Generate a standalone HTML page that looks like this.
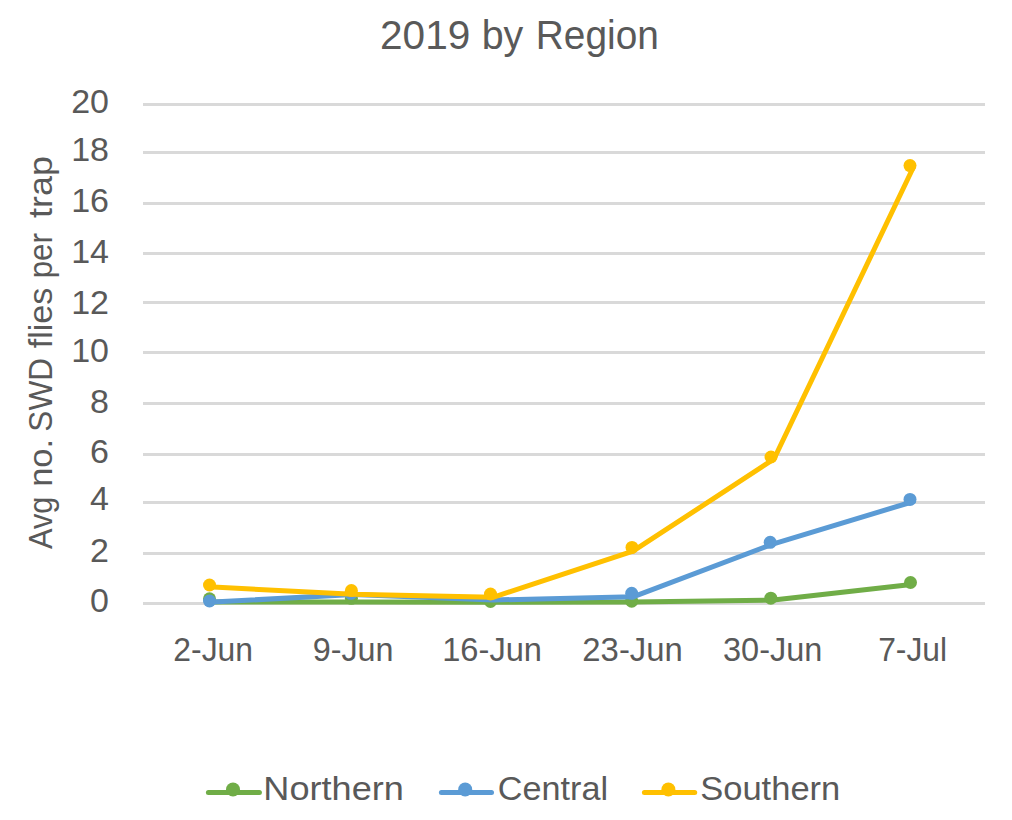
<!DOCTYPE html>
<html><head><meta charset="utf-8"><style>
html,body{margin:0;padding:0;background:#fff;}
body{width:1012px;height:820px;overflow:hidden;font-family:"Liberation Sans",sans-serif;}
svg{display:block;}
</style></head><body>
<svg width="1012" height="820" viewBox="0 0 1012 820">
<rect x="143" y="103" width="842" height="3" fill="#D9D9D9"/>
<rect x="143" y="151" width="842" height="3" fill="#D9D9D9"/>
<rect x="143" y="202" width="842" height="3" fill="#D9D9D9"/>
<rect x="143" y="252" width="842" height="3" fill="#D9D9D9"/>
<rect x="143" y="301" width="842" height="3" fill="#D9D9D9"/>
<rect x="143" y="351" width="842" height="3" fill="#D9D9D9"/>
<rect x="143" y="402" width="842" height="3" fill="#D9D9D9"/>
<rect x="143" y="453" width="842" height="3" fill="#D9D9D9"/>
<rect x="143" y="501" width="842" height="3" fill="#D9D9D9"/>
<rect x="143" y="552" width="842" height="3" fill="#D9D9D9"/>
<rect x="143" y="602" width="842" height="3" fill="#D9D9D9"/>
<polyline points="213,602 353,602 493,602.3 633,602 773.5,600 913.5,584.3" fill="none" stroke="#70AD47" stroke-width="5" stroke-linejoin="round" stroke-linecap="round"/>
<circle cx="209.5" cy="598.8" r="6.5" fill="#70AD47"/>
<circle cx="351.4" cy="598.3" r="6.5" fill="#70AD47"/>
<circle cx="490.5" cy="601.4" r="6.5" fill="#70AD47"/>
<circle cx="631.7" cy="601.2" r="6.5" fill="#70AD47"/>
<circle cx="770.8" cy="598.2" r="6.5" fill="#70AD47"/>
<circle cx="910.5" cy="582.5" r="6.5" fill="#70AD47"/>
<polyline points="213,602.1 353,594.5 493,600 633,596.8 773.5,543.8 913.5,501.5" fill="none" stroke="#5B9BD5" stroke-width="5" stroke-linejoin="round" stroke-linecap="round"/>
<circle cx="209.5" cy="601" r="6.5" fill="#5B9BD5"/>
<circle cx="351" cy="593.3" r="6.5" fill="#5B9BD5"/>
<circle cx="490.5" cy="595.5" r="6.5" fill="#5B9BD5"/>
<circle cx="631.7" cy="593.3" r="6.5" fill="#5B9BD5"/>
<circle cx="770.2" cy="542.3" r="6.5" fill="#5B9BD5"/>
<circle cx="910" cy="499.4" r="6.5" fill="#5B9BD5"/>
<polyline points="213,587.1 353,594.2 493,597.3 633,551.2 774,459 913.5,167" fill="none" stroke="#FFC000" stroke-width="5" stroke-linejoin="round" stroke-linecap="round"/>
<circle cx="209.5" cy="585" r="6.5" fill="#FFC000"/>
<circle cx="351.4" cy="590.5" r="6.5" fill="#FFC000"/>
<circle cx="490.5" cy="594" r="6.5" fill="#FFC000"/>
<circle cx="632" cy="547.4" r="6.5" fill="#FFC000"/>
<circle cx="771" cy="457" r="6.5" fill="#FFC000"/>
<circle cx="910" cy="165.6" r="6.5" fill="#FFC000"/>
<line x1="208.4" y1="792.5" x2="259.4" y2="792.5" stroke="#70AD47" stroke-width="5" stroke-linecap="round"/>
<circle cx="233" cy="789.5" r="7" fill="#70AD47"/>
<line x1="441.4" y1="792.5" x2="491.5" y2="792.5" stroke="#5B9BD5" stroke-width="5" stroke-linecap="round"/>
<circle cx="465.2" cy="789.5" r="7" fill="#5B9BD5"/>
<line x1="644.4" y1="792.5" x2="694.7" y2="792.5" stroke="#FFC000" stroke-width="5" stroke-linecap="round"/>
<circle cx="668.4" cy="789.5" r="7" fill="#FFC000"/>
<text x="380.06" y="49" font-size="40" font-family="Liberation Sans, sans-serif" fill="#595959" textLength="90.16" lengthAdjust="spacingAndGlyphs">2019</text>
<text x="481.66" y="49" font-size="40" font-family="Liberation Sans, sans-serif" fill="#595959" textLength="41.62" lengthAdjust="spacingAndGlyphs">by</text>
<text x="535.81" y="49" font-size="40" font-family="Liberation Sans, sans-serif" fill="#595959" textLength="123.11" lengthAdjust="spacingAndGlyphs">Region</text>
<text x="109" y="112.60" font-size="34" font-family="Liberation Sans, sans-serif" fill="#595959" text-anchor="end">20</text>
<text x="109" y="160.60" font-size="34" font-family="Liberation Sans, sans-serif" fill="#595959" text-anchor="end">18</text>
<text x="109" y="211.60" font-size="34" font-family="Liberation Sans, sans-serif" fill="#595959" text-anchor="end">16</text>
<text x="109" y="262.60" font-size="34" font-family="Liberation Sans, sans-serif" fill="#595959" text-anchor="end">14</text>
<text x="109" y="313.70" font-size="34" font-family="Liberation Sans, sans-serif" fill="#595959" text-anchor="end">12</text>
<text x="109" y="362.00" font-size="34" font-family="Liberation Sans, sans-serif" fill="#595959" text-anchor="end">10</text>
<text x="109" y="412.50" font-size="34" font-family="Liberation Sans, sans-serif" fill="#595959" text-anchor="end">8</text>
<text x="109" y="462.60" font-size="34" font-family="Liberation Sans, sans-serif" fill="#595959" text-anchor="end">6</text>
<text x="109" y="510.40" font-size="34" font-family="Liberation Sans, sans-serif" fill="#595959" text-anchor="end">4</text>
<text x="109" y="561.70" font-size="34" font-family="Liberation Sans, sans-serif" fill="#595959" text-anchor="end">2</text>
<text x="109" y="612.40" font-size="34" font-family="Liberation Sans, sans-serif" fill="#595959" text-anchor="end">0</text>
<text x="173.3" y="661" font-size="33" font-family="Liberation Sans, sans-serif" fill="#595959" textLength="79.77" lengthAdjust="spacingAndGlyphs">2-Jun</text>
<text x="312.68" y="661" font-size="33" font-family="Liberation Sans, sans-serif" fill="#595959" textLength="80.92" lengthAdjust="spacingAndGlyphs">9-Jun</text>
<text x="442.21" y="661" font-size="33" font-family="Liberation Sans, sans-serif" fill="#595959" textLength="99.81" lengthAdjust="spacingAndGlyphs">16-Jun</text>
<text x="582.35" y="661" font-size="33" font-family="Liberation Sans, sans-serif" fill="#595959" textLength="100.49" lengthAdjust="spacingAndGlyphs">23-Jun</text>
<text x="722.96" y="661" font-size="33" font-family="Liberation Sans, sans-serif" fill="#595959" textLength="99.45" lengthAdjust="spacingAndGlyphs">30-Jun</text>
<text x="878.17" y="661" font-size="33" font-family="Liberation Sans, sans-serif" fill="#595959" textLength="68.96" lengthAdjust="spacingAndGlyphs">7-Jul</text>
<text transform="rotate(-90)" x="-549.06" y="52" font-size="34" font-family="Liberation Sans, sans-serif" fill="#595959" textLength="52.52" lengthAdjust="spacingAndGlyphs">Avg</text>
<text transform="rotate(-90)" x="-486.88" y="52" font-size="34" font-family="Liberation Sans, sans-serif" fill="#595959" textLength="47.83" lengthAdjust="spacingAndGlyphs">no.</text>
<text transform="rotate(-90)" x="-431.63" y="52" font-size="34" font-family="Liberation Sans, sans-serif" fill="#595959" textLength="73.64" lengthAdjust="spacingAndGlyphs">SWD</text>
<text transform="rotate(-90)" x="-348.38" y="52" font-size="34" font-family="Liberation Sans, sans-serif" fill="#595959" textLength="60.82" lengthAdjust="spacingAndGlyphs">flies</text>
<text transform="rotate(-90)" x="-278.31" y="52" font-size="34" font-family="Liberation Sans, sans-serif" fill="#595959" textLength="45.13" lengthAdjust="spacingAndGlyphs">per</text>
<text transform="rotate(-90)" x="-217.94" y="52" font-size="34" font-family="Liberation Sans, sans-serif" fill="#595959" textLength="61.75" lengthAdjust="spacingAndGlyphs">trap</text>
<text x="263.3" y="800" font-size="33" font-family="Liberation Sans, sans-serif" fill="#595959" textLength="140.6" lengthAdjust="spacingAndGlyphs">Northern</text>
<text x="497.8" y="800" font-size="33" font-family="Liberation Sans, sans-serif" fill="#595959" textLength="110.2" lengthAdjust="spacingAndGlyphs">Central</text>
<text x="700.2" y="800" font-size="33" font-family="Liberation Sans, sans-serif" fill="#595959" textLength="140.1" lengthAdjust="spacingAndGlyphs">Southern</text>
</svg>
</body></html>
